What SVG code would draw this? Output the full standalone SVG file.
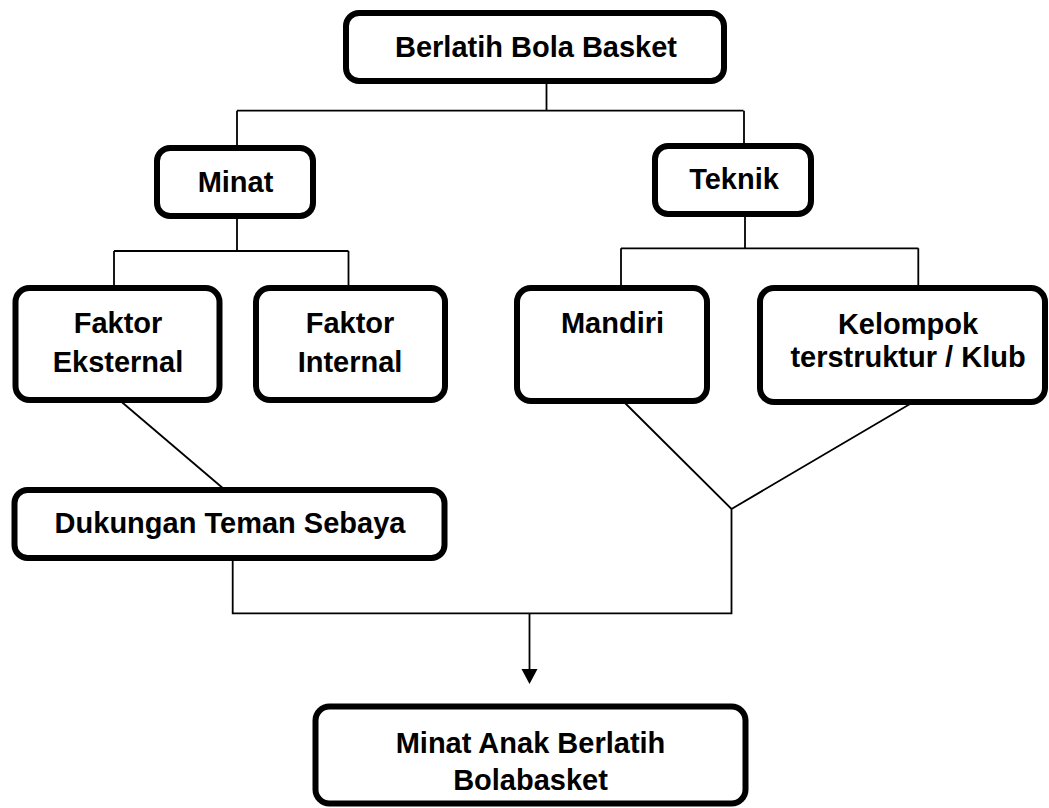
<svg xmlns="http://www.w3.org/2000/svg" width="1049" height="808" viewBox="0 0 1049 808">
<style>
.box{fill:#fff;stroke:#000;stroke-width:6}
.t{font-family:"Liberation Sans",Arial,sans-serif;font-weight:bold;font-size:29px;fill:#000;text-anchor:middle}
.c{fill:none;stroke:#000;stroke-width:1.8}
</style>
<rect width="1049" height="808" fill="#fff"/>
<g id="connectors">
<path class="c" d="M546.5,84V110.7M237,110.7H743.5M237,110.7V146M744,110.7V144"/>
<path class="c" d="M237,218V251M114,251H348.5M114,251V286M348.5,251V286"/>
<path class="c" d="M745,216V248.3M621,248.3H918.3M621,248.3V286M918.3,248.3V286"/>
<path class="c" d="M121.7,402L222.7,488"/>
<path class="c" d="M625,403L731.5,509L910,404M731.5,509V613.3H232.7V560"/>
<path class="c" d="M529.5,613.3V671"/>
<polygon points="521.5,669 537.5,669 529.5,684" fill="#000"/>
</g>
<g id="node-berlatih">
<rect class="box" x="346" y="13" width="378" height="68" rx="13"/>
<text class="t" x="536" y="57">Berlatih Bola Basket</text>
</g>
<g id="node-minat">
<rect class="box" x="157" y="148" width="156" height="68" rx="13"/>
<text class="t" x="235.5" y="191.7">Minat</text>
</g>
<g id="node-teknik">
<rect class="box" x="655" y="146" width="156" height="68" rx="13"/>
<text class="t" x="734" y="189.3">Teknik</text>
</g>
<g id="node-eksternal">
<rect class="box" x="15.5" y="288" width="204" height="112" rx="14"/>
<text class="t" x="118" y="333.3">Faktor</text>
<text class="t" x="118" y="371.7">Eksternal</text>
</g>
<g id="node-internal">
<rect class="box" x="256" y="288" width="189" height="112" rx="14"/>
<text class="t" x="350" y="333.3">Faktor</text>
<text class="t" x="350" y="371.7">Internal</text>
</g>
<g id="node-mandiri">
<rect class="box" x="517" y="288" width="190" height="113" rx="14"/>
<text class="t" x="612.5" y="333.3">Mandiri</text>
</g>
<g id="node-kelompok">
<rect class="box" x="760" y="288" width="285" height="114" rx="14"/>
<text class="t" x="908" y="334">Kelompok</text>
<text class="t" x="908" y="367">terstruktur / Klub</text>
</g>
<g id="node-dukungan">
<rect class="box" x="14.5" y="490" width="430" height="68" rx="13"/>
<text class="t" x="230" y="533.3">Dukungan Teman Sebaya</text>
</g>
<g id="node-minat-anak">
<rect class="box" x="315.5" y="706.5" width="430" height="97" rx="14"/>
<text class="t" x="530.5" y="753">Minat Anak Berlatih</text>
<text class="t" x="530.5" y="790">Bolabasket</text>
</g>
</svg>
